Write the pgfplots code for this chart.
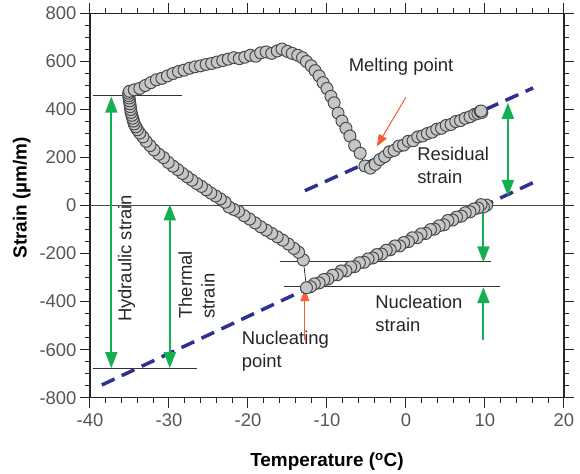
\documentclass[border=0pt]{standalone}
\usepackage{fontspec}
\setmainfont{Liberation Sans}
\usepackage{pgfplots}
\pgfplotsset{compat=1.18}
\usetikzlibrary{arrows.meta}
\definecolor{markfill}{HTML}{C4C6C8}
\definecolor{markedge}{HTML}{4A4A4A}
\definecolor{fitblue}{HTML}{2E3192}
\definecolor{arrgreen}{RGB}{20,175,80}
\definecolor{arrorange}{RGB}{242,95,50}
\definecolor{ticklab}{HTML}{555555}
\begin{document}
\begin{tikzpicture}
\begin{axis}[
  scale only axis, width=474bp, height=384.2bp,
  xmin=-40, xmax=20, ymin=-800, ymax=800,
  xtick distance=10, ytick distance=200,
  minor x tick num=4, minor y tick num=3,
  tick align=outside,
  major tick length=10bp, minor tick length=5bp,
  every tick/.style={black!85, line width=1bp},
  axis line style={black!85, line width=1.3bp},
  /pgf/number format/assume math mode=true,
  ticklabel style={font=\fontsize{18.5}{21}\selectfont, text=ticklab},
  xticklabel style={yshift=-2bp},
  xlabel={\textbf{Temperature (\textsuperscript{o}C)}},
  ylabel={\textbf{Strain (µm/m)}},
  label style={font=\fontsize{19}{22}\selectfont},
  xlabel style={at={(axis description cs:0.5,-0.167)}, anchor=center},
  ylabel style={at={(axis description cs:-0.144,0.52)}, anchor=center},
  clip=false,
]
% zero line
\addplot[black!70, line width=0.9bp] coordinates {(-40,0) (20,0)};
% data
\addplot[black, line width=0.6bp, mark=*, mark size=6bp,
  mark options={fill=markfill, draw=markedge, line width=1bp}] coordinates {
(10.2,2) (9.8,-6) (9.5,4) (9.1,-10) (8.6,-14) (8.1,-26) (7.5,-30) (7.0,-44) (6.4,-48) (5.9,-60) (5.3,-62) (4.8,-80) (4.2,-84) (3.6,-98) (3.1,-100) (2.5,-116) (1.9,-118) (1.4,-134) (0.8,-134) (0.3,-150) (-0.3,-154) (-0.8,-168) (-1.4,-168) (-2.0,-184) (-2.5,-186) (-3.1,-202) (-3.7,-204) (-4.2,-218) (-4.8,-222) (-5.3,-236) (-5.9,-238) (-6.5,-254) (-7.0,-256) (-7.6,-272) (-8.2,-272) (-8.7,-288) (-9.3,-290) (-9.9,-306) (-10.4,-308) (-11.0,-322) (-11.6,-326) (-12.1,-338) (-12.6,-342)
(-13.0,-226)
(-13.6,-194) (-14.2,-178) (-14.9,-160) (-15.6,-144) (-16.3,-130) (-17.0,-116) (-17.7,-102) (-18.4,-88) (-19.1,-72) (-19.8,-56) (-20.5,-42) (-21.2,-24) (-21.8,-16) (-22.4,-6) (-22.9,14) (-23.5,28) (-24.1,40) (-24.7,52) (-25.3,66) (-25.9,80) (-26.5,92) (-27.1,106) (-27.7,120) (-28.3,134) (-28.9,150) (-29.5,164) (-30.1,180) (-30.7,200) (-31.3,214) (-31.9,232) (-32.4,250) (-32.9,268) (-33.3,286) (-33.7,302) (-34.0,316) (-34.2,328) (-34.4,340) (-34.5,352) (-34.6,364) (-34.7,376) (-34.8,388) (-34.85,400) (-34.9,412) (-34.95,424) (-35.0,436) (-35.05,448) (-35.1,458) (-35.1,468) (-35.0,476)
(-34.4,482) (-33.7,488) (-33.0,500) (-32.3,512) (-31.6,524) (-30.9,530) (-30.2,540) (-29.5,550) (-28.8,558) (-28.1,564) (-27.4,572) (-26.7,578) (-26.0,582) (-25.3,588) (-24.6,592) (-23.9,598) (-23.2,604) (-22.5,610) (-21.8,616) (-21.1,612) (-20.4,618) (-19.7,626) (-19.0,622) (-18.4,636) (-17.7,640) (-17.0,634) (-16.3,644) (-15.7,652) (-15.0,642) (-14.4,634) (-13.7,626) (-13.1,616) (-12.6,600) (-12.0,582) (-11.5,562) (-11.0,540) (-10.5,512) (-10.0,488) (-9.5,455) (-9.1,428) (-8.6,385) (-8.1,352) (-7.6,322) (-7.1,290) (-6.5,250) (-5.8,218) (-5.2,165) (-4.5,156) (-3.9,172) (-3.3,192) (-2.7,204) (-2.1,224) (-1.5,230) (-0.9,248) (-0.3,252) (0.3,268) (0.9,270) (1.5,286) (2.1,290) (2.7,300) (3.3,306) (3.9,318) (4.5,322) (5.1,334) (5.7,338) (6.3,350) (6.9,354) (7.5,364) (8.1,370) (8.7,380) (9.1,384) (9.4,392) (9.6,388) (9.5,394)
};
% reference lines
\addplot[black!80, line width=0.8bp] coordinates {(-39.6,458) (-28.3,458)};
\addplot[black!80, line width=0.8bp] coordinates {(-39.6,-677) (-26.4,-677)};
\addplot[black!80, line width=0.8bp] coordinates {(-16,-233) (10.7,-233)};
\addplot[black!80, line width=0.8bp] coordinates {(-15.5,-338) (11.9,-338)};
% fit lines
\addplot[fitblue, line width=3.5bp, dash pattern=on 14bp off 8bp] coordinates {(-12.8,62) (16.1,490)};
\addplot[fitblue, line width=3.5bp, dash pattern=on 14bp off 8bp] coordinates {(-38.5,-747) (16.7,105)};
% green arrows
\draw[arrgreen, line width=2bp, {Triangle[width=12bp,length=16bp]}-{Triangle[width=12bp,length=16bp]}] (axis cs:-37.3,454) -- (axis cs:-37.3,-677);
\draw[arrgreen, line width=2bp, {Triangle[width=12bp,length=16bp]}-{Triangle[width=12bp,length=16bp]}] (axis cs:-29.9,5) -- (axis cs:-29.9,-677);
\draw[arrgreen, line width=2bp, {Triangle[width=12bp,length=16bp]}-{Triangle[width=12bp,length=16bp]}] (axis cs:12.9,428) -- (axis cs:12.9,40);
\draw[arrgreen, line width=2bp, -{Triangle[width=12bp,length=16bp]}] (axis cs:9.8,-2) -- (axis cs:9.8,-236);
\draw[arrgreen, line width=2bp, -{Triangle[width=12bp,length=16bp]}] (axis cs:9.8,-560) -- (axis cs:9.8,-340);
% orange arrows
\draw[arrorange, line width=1bp, -{Triangle[width=9bp,length=12bp]}] (axis cs:0,452) -- (axis cs:-3.7,246);
\draw[arrorange, line width=1bp, -{Triangle[width=9bp,length=12bp]}] (axis cs:-12.8,-560) -- (axis cs:-12.8,-348);
% texts
\begin{scope}[every node/.style={font=\fontsize{18.5}{23}\selectfont, text=black!85, inner sep=0pt}]
\node at (axis cs:-0.63,578) {Melting point};
\node[anchor=west, align=left] at (axis cs:1.4,166) {Residual\\strain};
\node[anchor=west, align=left] at (axis cs:-3.9,-448) {Nucleation\\strain};
\node[anchor=west, align=left] at (axis cs:-20.8,-605) {Nucleating\\point};
\node[rotate=90] at (axis cs:-35.35,-220) {Hydraulic strain};
\node[rotate=90, align=left] at (axis cs:-26.5,-330) {Thermal\\strain};
\end{scope}
\end{axis}
\pgfresetboundingbox
\path[use as bounding box] (-90bp,-76.3bp) rectangle (490bp,397.7bp);
\end{tikzpicture}
\end{document}
